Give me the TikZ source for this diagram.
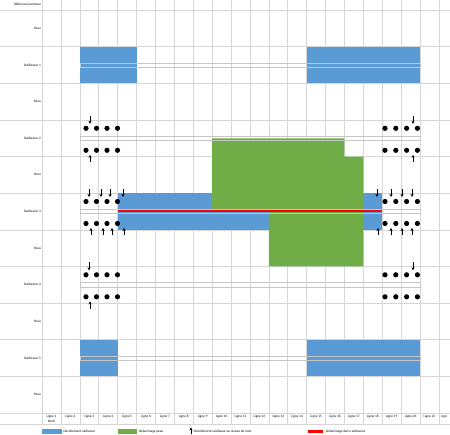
\documentclass[tikz,border=0pt]{standalone}
\usepackage{fontspec}
\setmainfont{Carlito}
\usepackage{tikz}
\usetikzlibrary{arrows.meta, positioning}
\definecolor{bleuDec}{HTML}{5B9BD5}
\definecolor{vertDel}{HTML}{70AD47}
\definecolor{grille}{HTML}{D6D6D6}
\tikzstyle{cellgrid} = [draw=grille, line width=0.6pt]
\tikzstyle{txt} = [font=\fontsize{3.4}{4}\selectfont, inner sep=0pt]
\tikzstyle{rowtxt} = [txt, anchor=east]
\tikzstyle{rivdot} = [circle, fill=black, inner sep=0pt, minimum size=5.2pt]
\tikzstyle{rivarrow} = [line width=0.8pt, -{Stealth[length=3pt, width=3pt]}]
\tikzstyle{stiffband} = [draw=gray!45, line width=0.4pt]
\tikzstyle{decol} = [fill=bleuDec]
\tikzstyle{delam} = [fill=vertDel]
\tikzstyle{redbar} = [fill=red]
\tikzstyle{legkey} = [rectangle, inner sep=0pt, minimum width=19.5pt, minimum height=4.5pt]
\begin{document}
\begin{tikzpicture}[x=1pt, y=-1pt]
    \useasboundingbox (0,0) rectangle (450,435);
    \clip (0,0) rectangle (450,435);
    % grille
    \foreach \k in {0,...,22}
        \draw[cellgrid] (42+18.9*\k,0) -- (42+18.9*\k,424);
    \foreach \i in {0,...,11}
        \draw[cellgrid] (0,10+36.64*\i) -- (450,10+36.64*\i);
    \draw[cellgrid] (0,424) -- (450,424);
    % zones décollées
    \fill[decol] (79.8,46.6) rectangle (136.5,83.3);
    \fill[decol] (306.6,46.6) rectangle (420,83.3);
    \fill[decol] (117.6,193.2) rectangle (382.2,229.8);
    \fill[decol] (79.8,339.8) rectangle (117.6,376.4);
    \fill[decol] (306.6,339.8) rectangle (420,376.4);
    % délaminage peau
    \fill[delam] (212.1,138.3) -- (344.4,138.3) -- (344.4,156.6) -- (363.3,156.6)
        -- (363.3,266.5) -- (268.8,266.5) -- (268.8,211.5) -- (212.1,211.5) -- cycle;
    % raidisseurs
    \foreach \m in {65,138.3,211.5,284.8,358}
        \draw[stiffband] (79.8,\m-2.2) rectangle (420,\m+2.2);
    \path[redbar] (117.6,210.5) rectangle (382.2,212.5);
    % rivets
    \foreach \m/\r in {138.3/b, 211.5/c, 284.8/d}
        \foreach \x [count=\n] in {86,96.5,107,117.5,385,395.8,406.6,417.4} {
            \node[rivdot] (h\r\n) at (\x,\m-10) {};
            \node[rivdot] (l\r\n) at (\x,\m+12) {};
        }
    \foreach \x/\m in {90/138.3, 413/138.3, 89/211.5, 101/211.5, 110/211.5, 123/211.5,
                       377/211.5, 391/211.5, 402/211.5, 412/211.5, 89/284.8, 413/284.8}
        \draw[rivarrow] (\x,\m-22.5) -- (\x,\m-14.5);
    \foreach \x/\m in {90/138.3, 413/138.3, 91/211.5, 103/211.5, 112/211.5, 124/211.5,
                       378/211.5, 391/211.5, 402/211.5, 412/211.5, 90/284.8}
        \draw[rivarrow] (\x,\m+24) -- (\x,\m+16.5);
    % textes
    \node[rowtxt] (ref) at (41,5) {Référence panneau};
    \foreach \t [count=\i] in {Peau, Raidisseur 1, Peau, Raidisseur 2, Peau, Raidisseur 3,
                               Peau, Raidisseur 4, Peau, Raidisseur 5, Peau}
        \node[rowtxt] (row\i) at (41,36.64*\i-8.32) {\t};
    \foreach \k in {1,...,21}
        \node[txt] (col\k) at (42+18.9*\k-9.45,417) {Ligne \k};
    \node[txt, anchor=west] (col22) at (441,417) {Lign};
    \node[txt, below=0.8pt of col1] (col1b) {Bord};
    % légende
    \node[legkey, fill=bleuDec] (keyA) at (52,431.5) {};
    \node[txt, right=1.5pt of keyA] (legA) {Décollement raidisseur};
    \node[legkey, fill=vertDel] (keyB) at (127.5,431.5) {};
    \node[txt, right=1.5pt of keyB] (legB) {Délaminage peau};
    \coordinate (keyC) at (191,427.5);
    \draw[rivarrow] (191,434.5) -- (keyC);
    \node[txt, anchor=west] (legC) at (194,431.5) {Décollement raidisseur au niveau du rivet};
    \coordinate (keyD) at (308,430.5);
    \path[redbar] (keyD) rectangle ++(15,2.2);
    \node[txt, anchor=west] (legD) at (326,431.5) {Délaminage dans raidisseurs};
\end{tikzpicture}
\end{document}
